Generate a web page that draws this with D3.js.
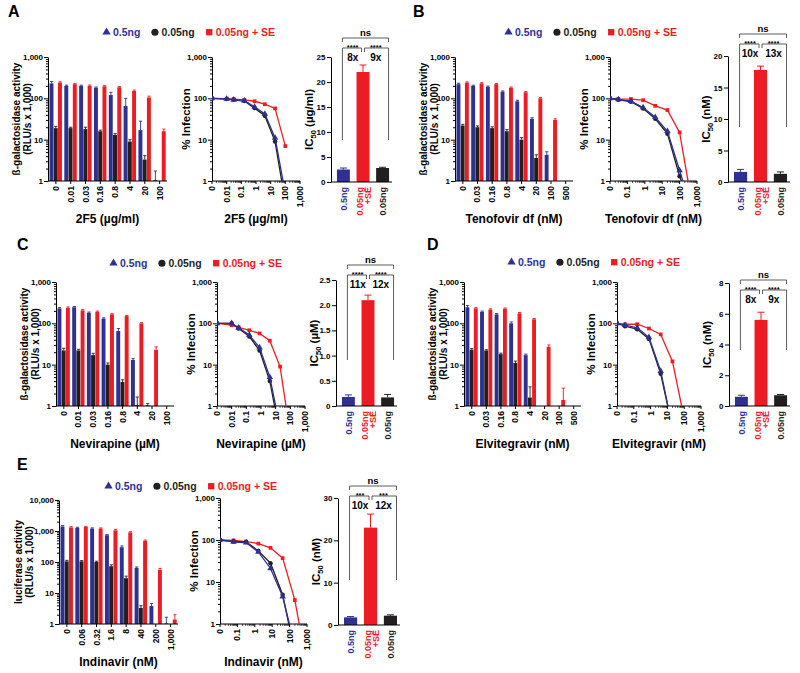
<!DOCTYPE html>
<html><head><meta charset="utf-8">
<script src="https://cdn.jsdelivr.net/npm/d3@7/dist/d3.min.js"></script>
<style>
html,body{margin:0;padding:0;background:#fff;}
svg{display:block;}
text{font-family:"Liberation Sans",Arial,Helvetica,sans-serif;font-weight:bold;}
</style></head><body>
<svg id="fig" width="800" height="673"></svg>
<script>
const BLUE="#2e3192", BLACK="#231f20", RED="#ed1c24";
const legendLabels=["0.5ng","0.05ng","0.05ng + SE"];
const icLabels=[["0.5ng"],["0.05ng","+SE"],["0.05ng"]];
const lineTicksSmall=["0","0.01","0.1","1","10","100","1,000"];
const lineTicksLarge=["0","0.1","1","10","100","1,000"];

// ---- Panel A : 2F5
const catsA=["0","0.01","0.03","0.16","0.8","4","20","100"];
const concA=[0,0.01,0.03,0.16,0.8,4,20,100];
const barBlueA=[230,200,200,180,120,65,17,1.05];
const errBlueA=[25,8,8,8,20,35,11,0.7];
const barBlackA=[19,19,18,16,13,9,3.3,null];
const errBlackA=[2,1,2,1,1,1,0.8,null];
const barRedA=[240,220,200,195,185,150,105,16];
const errRedA=[12,10,10,8,8,8,8,2];
const lineBlueA=[100,97,92,88,62,42,11,0.5];
const lineBlackA=[100,96,92,86,58,38,9,0.3];
const lineRedA=[100,98,96,92,85,72,57,7];
const icA=[2.5,22,2.8];
const icErrA=[0.3,1.4,0.15];
const icTicksA=[0,5,10,15,20,25];
const icTickLabA=["0","5","10","15","20","25"];
const foldA=["8x","9x"];
const starsA=["****","****"];

// ---- Panel B : Tenofovir df
const catsB=["0","0.03","0.16","0.8","4","20","100","500"];
const concB=[0,0.03,0.16,0.8,4,20,100,500];
const barBlueB=[220,200,190,145,85,32,4.3,null];
const errBlueB=[12,8,8,6,5,2,0.8,null];
const barBlackB=[22,20,19,16,10,3.6,null,null];
const errBlackB=[1.5,1.5,1.5,1.5,1.2,0.7,null,null];
const barRedB=[240,230,220,180,140,100,30,null];
const errRedB=[10,10,8,8,6,5,2,null];
const lineBlueB=[100,94,85,60,35,16,1.8,0.2];
const lineBlackB=[100,92,83,57,32,14,1.3,0.2];
const lineRedB=[100,97,96,90,66,52,15,0.3];
const icB=[1.6,17.8,1.3];
const icErrB=[0.4,0.6,0.3];
const icTicksB=[0,5,10,15,20];
const icTickLabB=["0","5","10","15","20"];
const foldB=["10x","13x"];
const starsB=["****","****"];

// ---- Panel C : Nevirapine
const catsC=["0","0.01","0.03","0.16","0.8","4","20","100"];
const concC=[0,0.01,0.03,0.16,0.8,4,20,100];
const barBlueC=[230,245,180,130,65,13,1.05,null];
const errBlueC=[10,10,8,6,10,1,0.1,null];
const barBlackC=[22,22,17,10,3.8,1.05,null,null];
const errBlackC=[3,1.5,1.8,1,0.5,0.6,null,null];
const barRedC=[235,205,190,165,150,100,23,null];
const errRedC=[15,10,8,6,5,4,4,null];
const lineBlueC=[100,100,78,52,26,5,0.3,0.1];
const lineBlackC=[100,100,75,48,22,4,0.2,0.1];
const lineRedC=[100,90,80,68,57,38,9,0.2];
const icC=[0.18,2.1,0.17];
const icErrC=[0.04,0.1,0.06];
const icTicksC=[0,0.5,1,1.5,2,2.5];
const icTickLabC=["0","0.5","1.0","1.5","2.0","2.5"];
const foldC=["11x","12x"];
const starsC=["****","****"];

// ---- Panel D : Elvitegravir
const catsD=["0","0.03","0.16","0.8","4","20","100","500"];
const concD=[0,0.03,0.16,0.8,4,20,100,500];
const barBlueD=[245,190,165,100,17,null,null,null];
const errBlueD=[25,8,8,8,1,null,null,null];
const barBlackD=[23,22,18,11,1.6,null,null,null];
const errBlackD=[1.5,1,1,1.2,1.3,null,null,null];
const barRedD=[230,215,225,175,125,27,1.4,null];
const errRedD=[10,10,10,8,6,3,1.3,null];
const lineBlueD=[100,90,78,46,7,0.3,0.1,0.1];
const lineBlackD=[100,85,72,42,6,0.3,0.1,0.1];
const lineRedD=[100,95,95,75,54,12,0.5,0.2];
const icD=[0.6,5.6,0.7];
const icErrD=[0.1,0.5,0.05];
const icTicksD=[0,2,4,6,8];
const icTickLabD=["0","2","4","6","8"];
const foldD=["8x","9x"];
const starsD=["****","****"];

// ---- Panel E : Indinavir
const catsE=["0","0.06","0.32","1.6","8","40","200","1,000"];
const concE=[0,0.06,0.32,1.6,8,40,200,1000];
const barBlueE=[1400,1260,1200,730,300,64,3.8,1.05];
const errBlueE=[100,60,60,40,30,5,0.8,0.6];
const barBlackE=[105,105,100,73,30,3.3,null,null];
const errBlackE=[8,6,6,8,5,0.6,null,null];
const barRedE=[1300,1350,1200,1050,900,480,56,1.4];
const errRedE=[80,60,60,80,50,30,6,0.6];
const lineBlueE=[100,90,86,52,21,4.5,0.3,0.1];
const lineBlackE=[100,92,90,55,28,5,0.2,0.1];
const lineRedE=[100,98,92,82,65,37,3.7,0.1];
const icE=[1.8,23,2.2];
const icErrE=[0.2,3.2,0.2];
const icTicksE=[0,10,20,30];
const icTickLabE=["0","10","20","30"];
const foldE=["10x","12x"];
const starsE=["***","***"];

const betaTitle=["ß-galactosidase activity","(RLU/s x 1,000)"];
const panels=[
 {name:"A",xTitle:"2F5 (µg/ml)",yTitle:betaTitle,icUnit:"(µg/ml)",cats:catsA,conc:concA,
  bars:[barBlueA,barBlackA,barRedA],errs:[errBlueA,errBlackA,errRedA],lines:[lineBlueA,lineBlackA,lineRedA],
  lineTicks:lineTicksSmall,ic:icA,icErr:icErrA,icTicks:icTicksA,icTickLab:icTickLabA,fold:foldA,stars:starsA,
  L:{letter:[8,17],legend:[103,36],bar:[48,167,181,57],bMax:1000,yt:[-28,-17.5],line:[212,300,181,57],lo:0.001,icx:[331,392],icy:[182,57],icMax:25,brN:32,legEnd:140,titleY:223}},
 {name:"B",xTitle:"Tenofovir df (nM)",yTitle:betaTitle,icUnit:"(nM)",cats:catsB,conc:concB,
  bars:[barBlueB,barBlackB,barRedB],errs:[errBlueB,errBlackB,errRedB],lines:[lineBlueB,lineBlackB,lineRedB],
  lineTicks:lineTicksLarge,ic:icB,icErr:icErrB,icTicks:icTicksB,icTickLab:icTickLabB,fold:foldB,stars:starsB,
  L:{letter:[413,17],legend:[505,36],bar:[455,573,181,57],bMax:1000,yt:[-28,-17.5],line:[610,697,181,57],lo:0.01,icx:[728,790],icy:[182,56],icMax:20,brN:28,legEnd:127,titleY:223}},
 {name:"C",xTitle:"Nevirapine (µM)",yTitle:betaTitle,icUnit:"(µM)",cats:catsC,conc:concC,
  bars:[barBlueC,barBlackC,barRedC],errs:[errBlueC,errBlackC,errRedC],lines:[lineBlueC,lineBlackC,lineRedC],
  lineTicks:lineTicksSmall,ic:icC,icErr:icErrC,icTicks:icTicksC,icTickLab:icTickLabC,fold:foldC,stars:starsC,
  L:{letter:[17,250],legend:[110,267],bar:[56,174,406,282],bMax:1000,yt:[-28,-17.5],line:[217,305,406,282],lo:0.001,icx:[336,397],icy:[406,280],icMax:2.5,brN:259,legEnd:360,titleY:448}},
 {name:"D",xTitle:"Elvitegravir (nM)",yTitle:betaTitle,icUnit:"(nM)",cats:catsD,conc:concD,
  bars:[barBlueD,barBlackD,barRedD],errs:[errBlueD,errBlackD,errRedD],lines:[lineBlueD,lineBlackD,lineRedD],
  lineTicks:lineTicksLarge,ic:icD,icErr:icErrD,icTicks:icTicksD,icTickLab:icTickLabD,fold:foldD,stars:starsD,
  L:{letter:[427,250],legend:[508,266],bar:[464,581,406,282],bMax:1000,yt:[-28,-17.5],line:[617,701,406,282],lo:0.01,icx:[729,790],icy:[406,283],icMax:8,brN:274,legEnd:350,titleY:448}},
 {name:"E",xTitle:"Indinavir (nM)",yTitle:["luciferase activity","(RLU/s x 1,000)"],icUnit:"(nM)",cats:catsE,conc:concE,
  bars:[barBlueE,barBlackE,barRedE],errs:[errBlueE,errBlackE,errRedE],lines:[lineBlueE,lineBlackE,lineRedE],
  lineTicks:lineTicksLarge,ic:icE,icErr:icErrE,icTicks:icTicksE,icTickLab:icTickLabE,fold:foldE,stars:starsE,
  L:{letter:[17,470],legend:[105,490],bar:[59,178,624,500],bMax:10000,yt:[-37,-26],line:[220,307,624,498],lo:0.01,icx:[338,400],icy:[625,498],icMax:30,brN:480,legEnd:580,titleY:666}}
];

const svg=d3.select("#fig");
const COLS=[BLUE,BLACK,RED];
const IC_COLS=[BLUE,RED,BLACK];
const SYMS=[d3.symbolTriangle,d3.symbolCircle,d3.symbolSquare];

function styleAxis(a){
  a.attr("font-family",null).attr("font-size",null);
  a.selectAll("text").attr("font-size",8).attr("fill","#000");
  a.selectAll("line,path").attr("stroke","#000").attr("stroke-width",1);
}
function logY(g,y,x0,max){
  const major=[],minor=[];
  for(let v=1;v<=max*1.0001;v*=10) major.push(v);
  for(let v=1;v<max*0.999;v*=10) for(let k=2;k<=9;k++) minor.push(v*k);
  const a=g.append("g").attr("transform",`translate(${x0},0)`)
    .call(d3.axisLeft(y).tickValues(major).tickFormat(d3.format(",.0f")).tickSize(4).tickSizeOuter(0).tickPadding(1));
  styleAxis(a);
  const m=g.append("g").attr("transform",`translate(${x0},0)`)
    .call(d3.axisLeft(y).tickValues(minor).tickFormat("").tickSize(2).tickSizeOuter(0));
  m.select(".domain").remove(); styleAxis(m);
}
function rotLabel(g,x,y,t,size,fill){
  return g.append("text").attr("transform",`translate(${x},${y}) rotate(-90)`).attr("text-anchor","end")
    .attr("dy","0.35em").attr("font-size",size).attr("fill",fill||"#000").text(t);
}

function legend(g,P){
  let [cx,y]=P.L.legend;
  const sizes=[30,40,40];
  legendLabels.forEach((lab,i)=>{
    g.append("path").attr("d",d3.symbol(SYMS[i],sizes[i])()).attr("transform",`translate(${cx+3.5},${y-3.8})`).attr("fill",COLS[i]);
    const t=g.append("text").attr("x",cx+10).attr("y",y).attr("font-size",10.5).attr("fill",COLS[i]).text(lab);
    cx+=10+t.node().getComputedTextLength()+11;
  });
}

function barChart(g,P){
  const [x0,x1,y0,y1]=P.L.bar;
  const y=d3.scaleLog().domain([1,P.L.bMax]).range([y0,y1]);
  const x=d3.scaleBand().domain(P.cats).range([x0+1.5,x1-1]).paddingInner(0.14);
  const bw=x.bandwidth()/3;
  P.bars.forEach((vals,s)=>{
    vals.forEach((v,i)=>{
      if(v==null) return;
      const bx=x(P.cats[i])+s*bw;
      g.append("rect").attr("x",bx).attr("y",y(v)).attr("width",bw-0.3).attr("height",Math.max(0,y0-y(v))).attr("fill",COLS[s]);
      const e=P.errs[s][i];
      if(e){
        const cx=bx+bw/2, ty=y(v+e);
        g.append("line").attr("x1",cx).attr("x2",cx).attr("y1",y(v)).attr("y2",ty).attr("stroke",COLS[s]).attr("stroke-width",0.9);
        g.append("line").attr("x1",cx-1.6).attr("x2",cx+1.6).attr("y1",ty).attr("y2",ty).attr("stroke",COLS[s]).attr("stroke-width",0.9);
      }
    });
  });
  logY(g,y,x0,P.L.bMax);
  g.append("line").attr("x1",x0).attr("x2",x1).attr("y1",y0).attr("y2",y0).attr("stroke","#000");
  P.cats.forEach(c=>{
    const cx=x(c)+x.bandwidth()/2;
    g.append("line").attr("x1",cx).attr("x2",cx).attr("y1",y0).attr("y2",y0+3).attr("stroke","#000");
    rotLabel(g,cx,y0+5,c,8.5);
  });
  const my=(y0+y1)/2;
  P.yTitle.forEach((t,k)=>{
    g.append("text").attr("transform",`translate(${x0+P.L.yt[k]},${my}) rotate(-90)`).attr("text-anchor","middle").attr("font-size",10).text(t);
  });
  g.append("text").attr("x",(x0+x1)/2).attr("y",P.L.titleY).attr("text-anchor","middle").attr("font-size",12).text(P.xTitle);
}

function lineChart(g,P){
  const [x0,x1,y0,y1]=P.L.line, lo=P.L.lo;
  const x=d3.scaleLog().domain([lo,1000]).range([x0,x1]);
  const y=d3.scaleLog().domain([1,1000]).range([y0,y1]);
  logY(g,y,x0,1000);
  g.append("line").attr("x1",x0).attr("x2",x1).attr("y1",y0).attr("y2",y0).attr("stroke","#000");
  const majors=[];
  for(let v=lo;v<=1000*1.0001;v*=10) majors.push(v);
  majors.forEach((v,i)=>{
    const cx=x(v);
    g.append("line").attr("x1",cx).attr("x2",cx).attr("y1",y0).attr("y2",y0+3).attr("stroke","#000");
    rotLabel(g,cx,y0+5,P.lineTicks[i],8.5);
  });
  for(let v=lo;v<1000*0.999;v*=10) for(let k=2;k<=9;k++){
    const cx=x(v*k);
    g.append("line").attr("x1",cx).attr("x2",cx).attr("y1",y0).attr("y2",y0+1.8).attr("stroke","#000").attr("stroke-width",0.8);
  }
  const cid="clip"+P.name;
  g.append("clipPath").attr("id",cid).append("rect").attr("x",x0).attr("y",y1-10).attr("width",x1-x0+10).attr("height",y0-y1+10);
  const pg=g.append("g").attr("clip-path",`url(#${cid})`);
  const xs=P.conc.map(c=>x(c===0?lo:c));
  const sizes=[18,16,14];
  [2,1,0].forEach(s=>{
    const vals=P.lines[s];
    const pts=vals.map((v,i)=>[xs[i],y(Math.max(v,0.01))]);
    pg.append("path").attr("d",d3.line()(pts)).attr("fill","none").attr("stroke",COLS[s]).attr("stroke-width",1.3);
    vals.forEach((v,i)=>{
      if(v>=1) pg.append("path").attr("d",d3.symbol(SYMS[s],sizes[s])()).attr("transform",`translate(${xs[i]},${y(v)})`).attr("fill",COLS[s]);
    });
  });
  g.append("text").attr("transform",`translate(${x0-22},${(y0+y1)/2}) rotate(-90)`).attr("text-anchor","middle").attr("font-size",11.5).text("% Infection");
  g.append("text").attr("x",(x0+x1)/2).attr("y",P.L.titleY).attr("text-anchor","middle").attr("font-size",12).text(P.xTitle);
}

function icChart(g,P){
  const [x0,x1]=P.L.icx, [y0,y1]=P.L.icy;
  const y=d3.scaleLinear().domain([0,P.L.icMax]).range([y0,y1]);
  const x=d3.scaleBand().domain([0,1,2]).range([x0+3,x1]).paddingInner(0.34).paddingOuter(0.15);
  const bw=x.bandwidth();
  P.ic.forEach((v,i)=>{
    g.append("rect").attr("x",x(i)).attr("y",y(v)).attr("width",bw).attr("height",y0-y(v)).attr("fill",IC_COLS[i]);
    const cx=x(i)+bw/2, ty=y(v+P.icErr[i]);
    g.append("line").attr("x1",cx).attr("x2",cx).attr("y1",y(v)).attr("y2",ty).attr("stroke",IC_COLS[i]).attr("stroke-width",1);
    g.append("line").attr("x1",cx-3.5).attr("x2",cx+3.5).attr("y1",ty).attr("y2",ty).attr("stroke",IC_COLS[i]).attr("stroke-width",1);
  });
  const a=g.append("g").attr("transform",`translate(${x0},0)`)
    .call(d3.axisLeft(y).tickValues(P.icTicks).tickFormat((d,i)=>P.icTickLab[i]).tickSize(4).tickSizeOuter(0).tickPadding(1.5));
  styleAxis(a);
  g.append("line").attr("x1",x0).attr("x2",x1).attr("y1",y0).attr("y2",y0).attr("stroke","#000");
  icLabels.forEach((labs,i)=>{
    const cx=x(i)+bw/2;
    if(labs.length===1) rotLabel(g,cx,y0+5,labs[0],9,IC_COLS[i]);
    else { rotLabel(g,cx-3,y0+5,labs[0],9,IC_COLS[i]); rotLabel(g,cx+5,y0+5,labs[1],9,IC_COLS[i]); }
  });
  const t=g.append("text").attr("transform",`translate(${x0-18},${(y0+y1)/2}) rotate(-90)`).attr("text-anchor","middle").attr("font-size",11.5);
  t.append("tspan").text("IC");
  t.append("tspan").attr("font-size",7.5).attr("dy",2.5).text("50");
  t.append("tspan").attr("dy",-2.5).text(" "+P.icUnit);
  // brackets
  const cb=x(0)+bw/2, cr=x(1)+bw/2;
  const Lx=cb-1, Rx=x(2)+bw-0.5, N=P.L.brN;
  const br=g.append("g").attr("fill","none").attr("stroke","#333").attr("stroke-width",0.8);
  br.append("path").attr("d",`M${Lx},${N+10}V${N+6}H${Rx}V${N+10}`);
  br.append("path").attr("d",`M${Lx},${P.L.legEnd}V${N+16}H${cr-1.5}V${N+20}`);
  br.append("path").attr("d",`M${cr+1.5},${N+20}V${N+16}H${Rx}V${P.L.legEnd}`);
  g.append("text").attr("x",(Lx+Rx)/2).attr("y",N+3.5).attr("text-anchor","middle").attr("font-size",9.5).attr("font-weight","normal").text("ns");
  g.append("text").attr("x",(Lx+cr)/2).attr("y",N+17.5).attr("text-anchor","middle").attr("font-size",7.5).attr("font-weight","normal").text(P.stars[0]);
  g.append("text").attr("x",(cr+Rx)/2).attr("y",N+17.5).attr("text-anchor","middle").attr("font-size",7.5).attr("font-weight","normal").text(P.stars[1]);
  g.append("text").attr("x",(Lx+cr)/2).attr("y",N+29).attr("text-anchor","middle").attr("font-size",10).text(P.fold[0]);
  g.append("text").attr("x",(cr+Rx)/2).attr("y",N+29).attr("text-anchor","middle").attr("font-size",10).text(P.fold[1]);
}

panels.forEach(P=>{
  const g=svg.append("g");
  g.append("text").attr("x",P.L.letter[0]).attr("y",P.L.letter[1]).attr("font-size",16).text(P.name);
  legend(g,P);
  barChart(g,P);
  lineChart(g,P);
  icChart(g,P);
});
</script></body></html>
